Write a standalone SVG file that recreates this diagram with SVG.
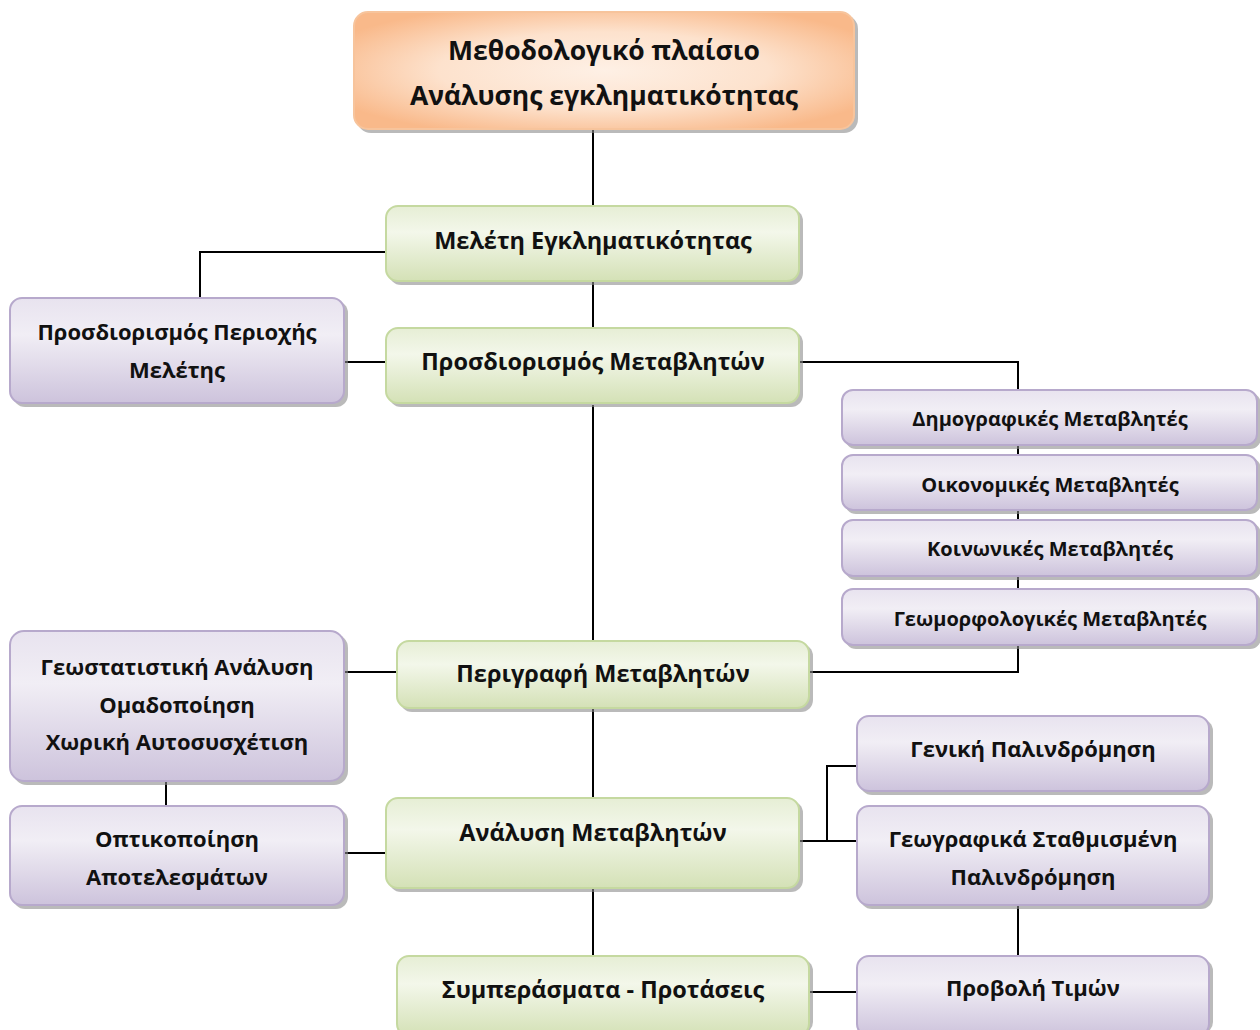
<svg xmlns="http://www.w3.org/2000/svg" width="1260" height="1030" viewBox="0 0 1260 1030">
<defs>
<linearGradient id="gG" x1="0" y1="0" x2="0" y2="1">
<stop offset="0" stop-color="#e6eed5"/><stop offset="0.35" stop-color="#f3f7ea"/><stop offset="1" stop-color="#d4e1b6"/>
</linearGradient>
<linearGradient id="gP" x1="0" y1="0" x2="0" y2="1">
<stop offset="0" stop-color="#e8e3ef"/><stop offset="0.35" stop-color="#f1eef5"/><stop offset="1" stop-color="#cdc3dc"/>
</linearGradient>
<radialGradient id="gO" cx="0.5" cy="0.5" r="0.6">
<stop offset="0" stop-color="#fef0e5"/><stop offset="0.55" stop-color="#fde2cd"/><stop offset="1" stop-color="#f9b98a"/>
</radialGradient>
</defs>
<style>
.sh{fill:#8c8c8c;opacity:0.6}
.g{fill:url(#gG);stroke:#c5d9a0;stroke-width:2}
.p{fill:url(#gP);stroke:#b7a9cc;stroke-width:2}
.o{fill:url(#gO);stroke:#f7c49c;stroke-width:2}
text{font-family:"Open Sans","Noto Sans",sans-serif;font-weight:700;fill:#111;text-anchor:middle;dominant-baseline:central}
.t1{font-size:26.5px}
.t2{font-size:23.5px}
.t3{font-size:22px}
.t4{font-size:20px}
.c{fill:none;stroke:#000;stroke-width:2}
</style>
<g id="connectors">
<path class="c" d="M593 128V206"/>
<path class="c" d="M386 252H200V298"/>
<path class="c" d="M593 282V328"/>
<path class="c" d="M345 362H386"/>
<path class="c" d="M800 362H1018V672H810"/>
<path class="c" d="M593 405V641"/>
<path class="c" d="M345 672H397"/>
<path class="c" d="M166 782V806"/>
<path class="c" d="M593 709V798"/>
<path class="c" d="M345 853H386"/>
<path class="c" d="M800 841H857M827 841V766H857"/>
<path class="c" d="M593 889V956"/>
<path class="c" d="M1018 906V956"/>
<path class="c" d="M810 992H857"/>
</g>
<g id="n-top"><rect class="sh" x="357" y="15" width="501" height="118" rx="14"/><rect class="o" x="354" y="12" width="500" height="117" rx="14"/><text class="t1" x="604" y="50">Μεθοδολογικό πλαίσιο</text><text class="t1" x="604" y="95">Ανάλυσης εγκληματικότητας</text></g>
<g id="n-meleti"><rect class="sh" x="389" y="209" width="414" height="76" rx="12"/><rect class="g" x="386" y="206" width="413" height="75" rx="12"/><text class="t2" x="593" y="240">Μελέτη Εγκληματικότητας</text></g>
<g id="n-perioxi"><rect class="sh" x="13" y="301" width="335" height="106" rx="12"/><rect class="p" x="10" y="298" width="334" height="105" rx="12"/><text class="t3" x="177" y="331">Προσδιορισμός Περιοχής</text><text class="t3" x="177" y="369">Μελέτης</text></g>
<g id="n-metavlites"><rect class="sh" x="389" y="331" width="414" height="76" rx="12"/><rect class="g" x="386" y="328" width="413" height="75" rx="12"/><text class="t2" x="593" y="361">Προσδιορισμός Μεταβλητών</text></g>
<g id="n-dimo"><rect class="sh" x="845" y="393" width="416" height="56" rx="11"/><rect class="p" x="842" y="390" width="415" height="55" rx="11"/><text class="t4" x="1050" y="418">Δημογραφικές Μεταβλητές</text></g>
<g id="n-oiko"><rect class="sh" x="845" y="458" width="416" height="56" rx="11"/><rect class="p" x="842" y="455" width="415" height="55" rx="11"/><text class="t4" x="1050" y="484">Οικονομικές Μεταβλητές</text></g>
<g id="n-koin"><rect class="sh" x="845" y="523" width="416" height="57" rx="11"/><rect class="p" x="842" y="520" width="415" height="56" rx="11"/><text class="t4" x="1050" y="548">Κοινωνικές Μεταβλητές</text></g>
<g id="n-geom"><rect class="sh" x="845" y="592" width="416" height="57" rx="11"/><rect class="p" x="842" y="589" width="415" height="56" rx="11"/><text class="t4" x="1050" y="618">Γεωμορφολογικές Μεταβλητές</text></g>
<g id="n-geostat"><rect class="sh" x="13" y="634" width="335" height="151" rx="14"/><rect class="p" x="10" y="631" width="334" height="150" rx="14"/><text class="t3" x="177" y="666">Γεωστατιστική Ανάλυση</text><text class="t3" x="177" y="704">Ομαδοποίηση</text><text class="t3" x="177" y="741">Χωρική Αυτοσυσχέτιση</text></g>
<g id="n-perigrafi"><rect class="sh" x="400" y="644" width="413" height="68" rx="12"/><rect class="g" x="397" y="641" width="412" height="67" rx="12"/><text class="t2" x="603" y="673">Περιγραφή Μεταβλητών</text></g>
<g id="n-geniki"><rect class="sh" x="860" y="719" width="353" height="76" rx="12"/><rect class="p" x="857" y="716" width="352" height="75" rx="12"/><text class="t3" x="1033" y="748">Γενική Παλινδρόμηση</text></g>
<g id="n-optiko"><rect class="sh" x="13" y="809" width="335" height="100" rx="12"/><rect class="p" x="10" y="806" width="334" height="99" rx="12"/><text class="t3" x="177" y="838">Οπτικοποίηση</text><text class="t3" x="177" y="876">Αποτελεσμάτων</text></g>
<g id="n-analysi"><rect class="sh" x="389" y="801" width="414" height="91" rx="12"/><rect class="g" x="386" y="798" width="413" height="90" rx="12"/><text class="t2" x="593" y="832">Ανάλυση Μεταβλητών</text></g>
<g id="n-gwr"><rect class="sh" x="860" y="809" width="353" height="100" rx="12"/><rect class="p" x="857" y="806" width="352" height="99" rx="12"/><text class="t3" x="1033" y="838">Γεωγραφικά Σταθμισμένη</text><text class="t3" x="1033" y="876">Παλινδρόμηση</text></g>
<g id="n-symp"><rect class="sh" x="400" y="959" width="413" height="75" rx="12"/><rect class="g" x="397" y="956" width="412" height="80" rx="12"/><text class="t2" x="603" y="989">Συμπεράσματα - Προτάσεις</text></g>
<g id="n-provoli"><rect class="sh" x="860" y="959" width="353" height="75" rx="12"/><rect class="p" x="857" y="956" width="352" height="80" rx="12"/><text class="t3" x="1033" y="987">Προβολή Τιμών</text></g>
</svg>
